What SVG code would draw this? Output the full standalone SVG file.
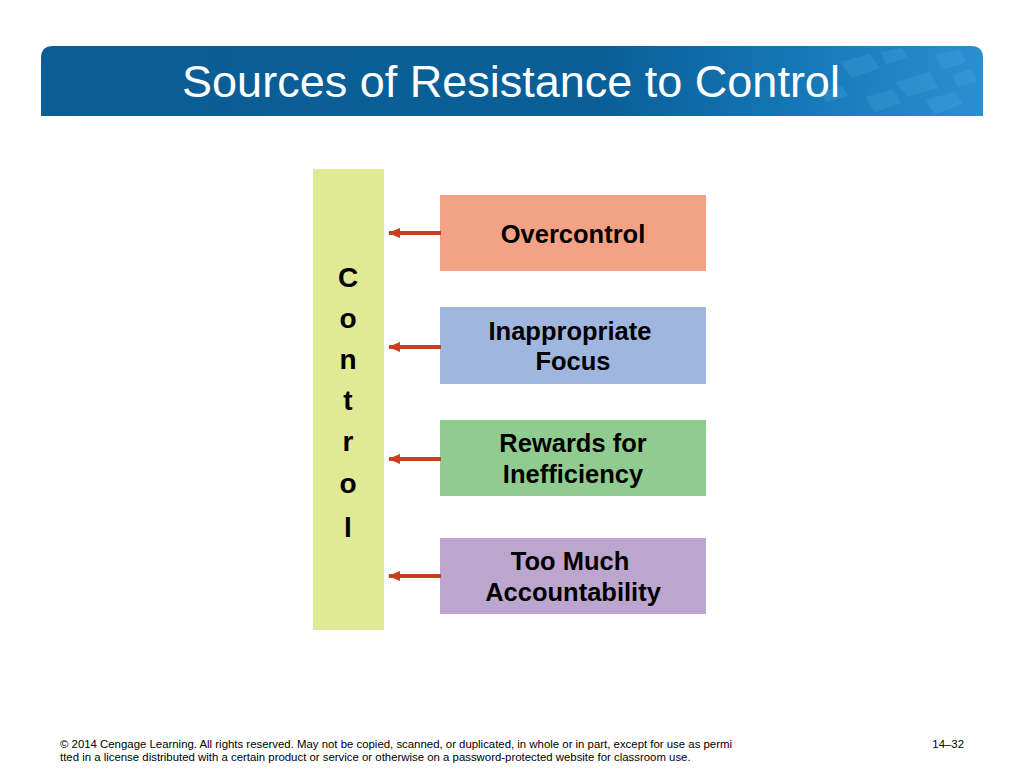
<svg xmlns="http://www.w3.org/2000/svg" width="1024" height="768" viewBox="0 0 1024 768">
<defs>
<linearGradient id="ban" x1="0" y1="0" x2="1" y2="0">
<stop offset="0" stop-color="#0b5d93"/>
<stop offset="0.6" stop-color="#0a5f98"/>
<stop offset="0.8" stop-color="#1577b5"/>
<stop offset="1" stop-color="#2a90d2"/>
</linearGradient>
<marker id="ah" markerWidth="12" markerHeight="10" refX="11" refY="5" orient="auto" markerUnits="userSpaceOnUse">
<path d="M0,0 L12,5 L0,10 Z" fill="#c8401b"/>
</marker>
<style>
.box{stroke:none}
.lbl{font-family:"Liberation Sans",Arial,sans-serif;font-weight:bold;font-size:25.5px;fill:#000;text-anchor:middle}
.ctl{font-family:"Liberation Sans",Arial,sans-serif;font-weight:bold;font-size:28px;fill:#000;text-anchor:middle}
.arr{stroke:#c8401b;stroke-width:4;fill:none}
.foot{font-family:"Liberation Sans",Arial,sans-serif;font-size:11.4px;fill:#000}
</style>
</defs>
<rect width="1024" height="768" fill="#fff"/>
<g id="banner">
<path d="M41,116 L41,58 Q41,46 53,46 L971,46 Q983,46 983,58 L983,116 Z" fill="url(#ban)"/>
<g fill="#5aaee6" opacity="0.22">
<path d="M840,62 l30,-8 l10,14 l-28,10 Z"/>
<path d="M895,82 l35,-10 l8,16 l-30,9 Z"/>
<path d="M935,54 l25,-4 l6,12 l-24,8 Z"/>
<path d="M865,97 l28,-8 l8,14 l-26,9 Z"/>
<path d="M925,100 l30,-8 l8,12 l-28,10 Z"/>
<path d="M952,75 l20,-6 l6,12 l-20,6 Z"/>
<path d="M880,52 l22,-4 l6,10 l-22,6 Z"/>
<path d="M820,92 l22,-6 l6,10 l-22,6 Z"/>
</g>
<text x="511" y="97" font-family="'Liberation Sans',Arial,sans-serif" font-size="45" fill="#fff" text-anchor="middle">Sources of Resistance to Control</text>
</g>
<g id="control">
<rect x="313" y="169" width="71" height="461" fill="#dfe996"/>
<text class="ctl" x="348" y="287">C</text>
<text class="ctl" x="348" y="328">o</text>
<text class="ctl" x="348" y="369">n</text>
<text class="ctl" x="348" y="410">t</text>
<text class="ctl" x="348" y="451">r</text>
<text class="ctl" x="348" y="493">o</text>
<text class="ctl" x="348" y="537">l</text>
</g>
<g id="overcontrol">
<rect class="box" x="440" y="195" width="266" height="76" fill="#f4a285"/>
<text class="lbl" x="573" y="243">Overcontrol</text>
</g>
<g id="inappropriate-focus">
<rect class="box" x="440" y="307" width="266" height="77" fill="#9fb6df"/>
<text class="lbl" x="570" y="340">Inappropriate</text>
<text class="lbl" x="573" y="370">Focus</text>
</g>
<g id="rewards">
<rect class="box" x="440" y="420" width="266" height="76" fill="#90cc8f"/>
<text class="lbl" x="573" y="452">Rewards for</text>
<text class="lbl" x="573" y="483">Inefficiency</text>
</g>
<g id="accountability">
<rect class="box" x="440" y="538" width="266" height="76" fill="#bca6d0"/>
<text class="lbl" x="570" y="570">Too Much</text>
<text class="lbl" x="573" y="601">Accountability</text>
</g>
<g id="connectors">
<line class="arr" x1="441" y1="233" x2="389" y2="233" marker-end="url(#ah)"/>
<line class="arr" x1="441" y1="347" x2="389" y2="347" marker-end="url(#ah)"/>
<line class="arr" x1="441" y1="459" x2="389" y2="459" marker-end="url(#ah)"/>
<line class="arr" x1="441" y1="576" x2="389" y2="576" marker-end="url(#ah)"/>
</g>
<g id="footer">
<text class="foot" x="60" y="748">© 2014 Cengage Learning. All rights reserved. May not be copied, scanned, or duplicated, in whole or in part, except for use as permi</text>
<text class="foot" x="60" y="761">tted in a license distributed with a certain product or service or otherwise on a password-protected website for classroom use.</text>
<text class="foot" x="964" y="748" text-anchor="end">14–32</text>
</g>
</svg>
